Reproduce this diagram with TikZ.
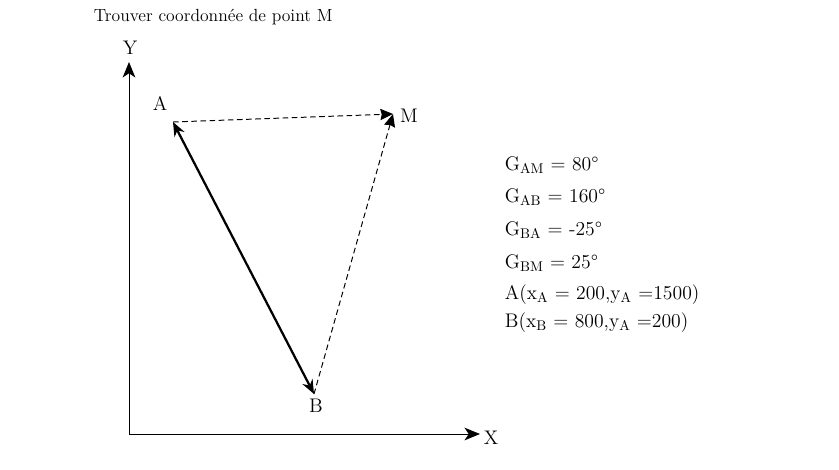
\documentclass[tikz,border=0pt]{standalone}
\usetikzlibrary{arrows.meta}
\begin{document}
\begin{tikzpicture}[x=0.025cm,y=-0.025cm,
    axis/.style={line width=0.7pt,-{Stealth[length=11pt,width=9pt,inset=3pt]}},
    bigtip/.style={-{Stealth[length=9pt,width=8pt,inset=1pt]}},
    info/.style={anchor=west,font=\fontsize{14}{16}\selectfont}]
  \useasboundingbox (0,0) rectangle (839,469);
  \node[anchor=west,font=\fontsize{12.5}{14}\selectfont] (title) at (89,17) {Trouver coordonnée de point M};
  % axes
  \coordinate (O) at (129,434);
  \coordinate (Ytip) at (129,62);
  \coordinate (Xtip) at (480,434);
  \draw[axis] (O) -- (Ytip);
  \draw[axis] (O) -- (Xtip);
  \node[font=\fontsize{14}{16}\selectfont] (Y) at (130,48) {Y};
  \node[font=\fontsize{14}{16}\selectfont] (X) at (491,438) {X};
  % points
  \coordinate (A) at (173,122);
  \coordinate (M) at (393,114);
  \coordinate (B) at (314,394);
  \node[font=\fontsize{14}{16}\selectfont] (Alab) at (160,103) {A};
  \node[font=\fontsize{14}{16}\selectfont] (Mlab) at (409,116) {M};
  \node[font=\fontsize{14}{16}\selectfont] (Blab) at (316,406) {B};
  \begin{scope}[dash pattern=on 4pt off 2.5pt,line width=0.7pt,bigtip]
    \draw (A) to (M);
    \draw (B) to (M);
  \end{scope}
  \draw[line width=1.6pt,{Stealth[length=10pt,width=8pt]}-{Stealth[length=10pt,width=8pt]}] (B) to (A);
  % donnees
  \node[info] (gam) at (500,165) {G$_{\mathrm{AM}}$ = 80°};
  \node[info] (gab) at (500,197) {G$_{\mathrm{AB}}$ = 160°};
  \node[info] (gba) at (500,230) {G$_{\mathrm{BA}}$ = -25°};
  \node[info] (gbm) at (500,263) {G$_{\mathrm{BM}}$ = 25°};
  \node[info] (pa) at (500,295) {A(x$_{\mathrm{A}}$ = 200,y$_{\mathrm{A}}$ =1500)};
  \node[info] (pb) at (500,323) {B(x$_{\mathrm{B}}$ = 800,y$_{\mathrm{A}}$ =200)};
\end{tikzpicture}
\end{document}
